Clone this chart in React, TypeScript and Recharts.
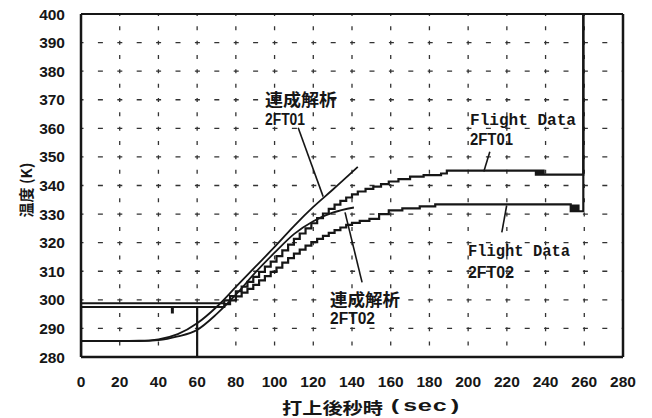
import { LineChart, Line, XAxis, YAxis, CartesianGrid, ReferenceLine } from 'recharts'

const xTicks = [0, 20, 40, 60, 80, 100, 120, 140, 160, 180, 200, 220, 240, 260, 280]
const yTicks = [280, 290, 300, 310, 320, 330, 340, 350, 360, 370, 380, 390, 400]

// 連成解析 2FT01 (smooth)
const calc01T = [0, 10, 20, 30, 40, 50, 60, 70, 80, 90, 100, 110, 120, 130, 143]
const calc01V = [285.6, 285.6, 285.6, 285.7, 286.2, 288.0, 291.8, 297.5, 304.5, 311.5, 318.5, 325.8, 332.5, 338.5, 346.5]

// 連成解析 2FT02 (smooth)
const calc02T = [0, 10, 20, 30, 40, 50, 60, 70, 80, 90, 100, 110, 120, 130, 141]
const calc02V = [285.6, 285.6, 285.6, 285.6, 285.9, 287.2, 289.5, 295.0, 301.8, 309.5, 316.5, 323.0, 327.5, 330.5, 332.3]

// Flight Data 2FT01 (stepped)
const flight01T = [0, 0, 74, 77, 80, 83, 86, 89, 92, 95, 98, 101, 104, 107, 110, 113, 116, 119, 122, 125, 128, 131, 134, 137, 140, 143, 147, 151, 155, 159, 164, 170, 177, 186, 189, 235, 236, 237, 238, 239, 259.5, 259.5]
const flight01V = [280, 298.8, 299.8, 301.3, 303.0, 304.6, 306.3, 308.0, 309.8, 311.6, 313.4, 315.3, 317.3, 319.3, 321.3, 323.2, 325.0, 326.8, 328.6, 330.2, 331.8, 333.3, 334.6, 335.8, 336.9, 337.9, 338.8, 339.6, 340.5, 341.4, 342.2, 343.1, 343.6, 344.2, 345.2, 343.8, 345.2, 343.8, 345.2, 343.8, 343.8, 400]

// Flight Data 2FT02 (stepped)
const flight02T = [0, 0, 47, 47.4, 60, 60, 74, 77, 80, 83, 86, 89, 92, 95, 98, 101, 104, 107, 110, 113, 116, 119, 122, 125, 128, 131, 134, 137, 140, 144, 149, 154, 159, 166, 175, 183, 253, 254, 255, 256, 257, 259.5, 259.5]
const flight02V = [280, 297.5, 295.6, 297.5, 280, 297.5, 298.5, 299.8, 301.2, 302.5, 303.8, 305.2, 306.8, 308.3, 309.8, 311.3, 313.0, 314.6, 316.2, 317.6, 319.0, 320.2, 321.3, 322.4, 323.4, 324.4, 325.3, 326.2, 326.9, 327.6, 328.3, 330.0, 331.3, 332.0, 332.7, 333.4, 331.0, 333.0, 331.0, 333.0, 331.0, 331.0, 400]

// leader lines for annotations, in data units
const leaders = [
  [{ x: 112.2, y: 360.2 }, { x: 125.1, y: 336.1 }],
  [{ x: 211.2, y: 351.8 }, { x: 208.1, y: 344.9 }],
  [{ x: 219.9, y: 333.0 }, { x: 217.4, y: 323.6 }],
  [{ x: 136.4, y: 330.6 }, { x: 145.2, y: 306.1 }],
]

const zip = (ts: number[], vs: number[]) => ts.map((t, i) => ({ t, v: vs[i] }))

const ink = '#161616'
const tickStyle = { fill: ink, fontSize: 15.5, fontWeight: 'bold', fontFamily: 'Liberation Sans, Arial, sans-serif' }
const cjk = '"Noto Sans CJK JP", sans-serif'
const sans = 'Liberation Sans, Arial, sans-serif'
const mono = 'Liberation Mono, monospace'

export default function App() {
  return (
    <div style={{ position: 'absolute', left: 0, top: 0, width: 652, height: 418, background: '#fff' }}>
      <LineChart width={652} height={418} margin={{ top: 14, right: 29, bottom: 31, left: 0 }}>
        <CartesianGrid vertical={false} stroke="#333" strokeWidth={1.3} strokeDasharray="5 14.4" strokeDashoffset={2.5} />
        <CartesianGrid horizontal={false} stroke="#333" strokeWidth={1.3} strokeDasharray="4 10.33" strokeDashoffset={2} />
        <XAxis
          dataKey="t"
          type="number"
          domain={[0, 280]}
          ticks={xTicks}
          allowDataOverflow
          height={30}
          tickLine={false}
          tickSize={0}
          tickMargin={19}
          tick={tickStyle}
          axisLine={{ stroke: ink, strokeWidth: 2.5 }}
        />
        <YAxis
          dataKey="v"
          type="number"
          domain={[280, 400]}
          ticks={yTicks}
          allowDataOverflow
          width={81}
          tickLine={false}
          tickSize={0}
          tickMargin={16}
          tick={tickStyle}
          axisLine={{ stroke: ink, strokeWidth: 2.5 }}
        />
        <ReferenceLine y={400} stroke={ink} strokeWidth={2} />
        <ReferenceLine x={280} stroke={ink} strokeWidth={2.5} />
        <Line data={zip(calc01T, calc01V)} dataKey="v" type="monotone" stroke={ink} strokeWidth={1.8} dot={false} isAnimationActive={false} />
        <Line data={zip(calc02T, calc02V)} dataKey="v" type="monotone" stroke={ink} strokeWidth={1.8} dot={false} isAnimationActive={false} />
        <Line data={zip(flight01T, flight01V)} dataKey="v" type="stepAfter" stroke={ink} strokeWidth={2.2} dot={false} isAnimationActive={false} />
        <Line data={zip(flight02T, flight02V)} dataKey="v" type="stepAfter" stroke={ink} strokeWidth={2.2} dot={false} isAnimationActive={false} />
        {leaders.map((seg, i) => (
          <ReferenceLine key={i} segment={seg} stroke={ink} strokeWidth={1.6} />
        ))}
      </LineChart>
      <svg width={652} height={418} style={{ position: 'absolute', left: 0, top: 0, pointerEvents: 'none' }}>
        <g fill={ink} fontWeight="bold">
          <text x={265} y={98} dominantBaseline="central" fontSize={17} fontFamily={cjk} textLength={72} lengthAdjust="spacingAndGlyphs">連成解析</text>
          <text x={265} y={119} dominantBaseline="central" fontSize={16} fontFamily={sans} textLength={40} lengthAdjust="spacingAndGlyphs">2FT01</text>

          <text x={470} y={121} dominantBaseline="central" fontSize={16} fontFamily={mono} textLength={106} lengthAdjust="spacingAndGlyphs">Flight Data</text>
          <text x={470} y={139} dominantBaseline="central" fontSize={16} fontFamily={sans} textLength={43} lengthAdjust="spacingAndGlyphs">2FT01</text>

          <text x={468} y={252} dominantBaseline="central" fontSize={16} fontFamily={mono} textLength={102} lengthAdjust="spacingAndGlyphs">Flight Data</text>
          <text x={468} y={272} dominantBaseline="central" fontSize={16} fontFamily={sans} textLength={46} lengthAdjust="spacingAndGlyphs">2FT02</text>

          <text x={330} y={298} dominantBaseline="central" fontSize={17} fontFamily={cjk} textLength={70} lengthAdjust="spacingAndGlyphs">連成解析</text>
          <text x={330} y={318} dominantBaseline="central" fontSize={16} fontFamily={sans} textLength={45} lengthAdjust="spacingAndGlyphs">2FT02</text>

          <text x={0} y={0} transform="translate(25 190) rotate(-90)" textAnchor="middle" dominantBaseline="central" fontSize={15} fontFamily={cjk} textLength={55} lengthAdjust="spacingAndGlyphs">温度 (K)</text>

          <text x={282} y={407} dominantBaseline="central" fontSize={16} fontFamily={cjk} textLength={101} lengthAdjust="spacingAndGlyphs">打上後秒時</text>
          <text x={388} y={407} dominantBaseline="central" fontSize={16} fontFamily={mono} textLength={74} lengthAdjust="spacingAndGlyphs">(sec)</text>
        </g>
      </svg>
    </div>
  )
}
